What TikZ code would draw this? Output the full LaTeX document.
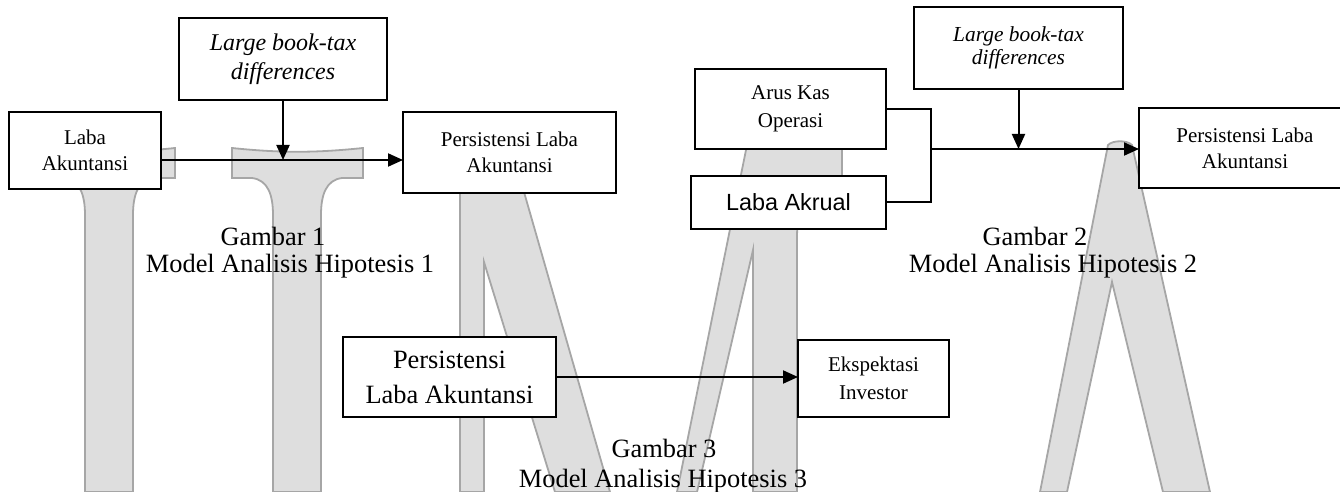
\documentclass[tikz,border=0pt]{standalone}
\usepackage{fontspec}
\setmainfont{Liberation Serif}
\newfontfamily\akrualfont{Liberation Sans}
\usetikzlibrary{arrows.meta}

\begin{document}
\begin{tikzpicture}[x=0.5pt, y=-0.5pt,
kotak/.style={rectangle, draw=black, line width=0.7pt, fill=white, anchor=north west, inner sep=0pt, outer sep=0pt, align=center},
kecil/.style={font=\fontsize{10.5}{13}\selectfont},
judul/.style={anchor=base, inner sep=0pt, font=\fontsize{13.2}{15}\selectfont},
garis/.style={draw=black, line width=1pt},
panah/.style={draw=black, line width=1pt, -{Triangle[length=7.5pt, width=6.5pt]}},
wmark/.style={fill=black!13, draw=black!35, line width=0.9pt},]

\useasboundingbox (0,0) rectangle (1340,492);

% watermark
\draw[wmark] (44,148) .. controls (92,153) and (127,153) .. (175,148) -- (175,178) -- (154,178) .. controls (138,180) and (133,195) .. (133,215) -- (133,492) -- (85,492) -- (85,215) .. controls (85,195) and (80,180) .. (64,178) -- (44,178) -- cycle;
\draw[wmark] (232,148) .. controls (280,153) and (315,153) .. (363,148) -- (363,178) -- (342,178) .. controls (326,180) and (321,195) .. (321,215) -- (321,492) -- (273,492) -- (273,215) .. controls (273,195) and (268,180) .. (252,178) -- (232,178) -- cycle;
\draw[wmark] (460,185) -- (522,185) -- (610,492) -- (555,492) -- (484,262) -- (484,492) -- (460,492) -- cycle;
\draw[wmark] (747,145) -- (842,145) -- (842,178) .. controls (800,190) and (797,210) .. (797,240) -- (797,492) -- (753,492) -- (753,250) -- (697,492) -- (677,492) -- cycle;
\draw[wmark] (1040,492) -- (1108,145) .. controls (1113,140) and (1127,140) .. (1132,145) -- (1210,492) -- (1163,492) -- (1112,282) -- (1067,492) -- cycle;

% Gambar 1
\node (laba) [kotak, kecil, minimum width=76pt, minimum height=38.5pt] at (9,112) {Laba\\Akuntansi};

\node (lbtd1) [kotak, font=\fontsize{12}{14.5}\selectfont\itshape, minimum width=104pt, minimum height=41pt] at (179,18) {Large book-tax\\differences};

\node (persist1) [kotak, kecil, minimum width=106.5pt, minimum height=40.5pt] at (403,112) {Persistensi Laba\\Akuntansi};

\coordinate (m1) at (283,160);
\draw[panah] (laba.east |- m1) -- (persist1.west |- m1);
\draw[panah] (lbtd1.south) -- (m1);

\node (gbr1) [judul] at (273,245) {Gambar 1};
\node (cap1) [judul] at (290,272.5) {Model Analisis Hipotesis 1};

% Gambar 2
\node (arus) [kotak, font=\fontsize{10.5}{14}\selectfont, minimum width=95.5pt, minimum height=40pt] at (695,69) {Arus Kas\\Operasi};

\node (akrual) [kotak, font=\akrualfont\fontsize{11.7}{14}\selectfont, minimum width=97.5pt, minimum height=26.5pt] at (691,176) {Laba Akrual};

\node (lbtd2) [kotak, font=\fontsize{10.7}{11.5}\selectfont\itshape, minimum width=104.5pt, minimum height=41pt] at (914,7) {Large book-tax\\differences};

\node (persist2) [kotak, kecil, minimum width=106pt, minimum height=40pt] at (1139,108) {Persistensi Laba\\Akuntansi};

\coordinate (bus) at (931,149);
\coordinate (m2) at (1018.5,149);
\draw[garis] (arus.east) -| (bus) |- (akrual.east);
\draw[panah] (bus) -- (persist2.west |- bus);
\draw[panah] (lbtd2.south) -- (m2);

\node (gbr2) [judul] at (1035,245) {Gambar 2};
\node (cap2) [judul] at (1053,272.5) {Model Analisis Hipotesis 2};

% Gambar 3
\node (persist3) [kotak, font=\fontsize{13.2}{17.5}\selectfont, minimum width=106.5pt, minimum height=40pt] at (343,337) {Persistensi\\Laba Akuntansi};

\node (ekspek) [kotak, font=\fontsize{10.5}{14}\selectfont, minimum width=75.5pt, minimum height=38.5pt] at (798,340) {Ekspektasi\\Investor};

\draw[panah] (persist3.east) -- (ekspek.west |- persist3.east);

\node (gbr3) [judul] at (664,457) {Gambar 3};
\node (cap3) [judul] at (663,487.5) {Model Analisis Hipotesis 3};

\end{tikzpicture}
\end{document}
